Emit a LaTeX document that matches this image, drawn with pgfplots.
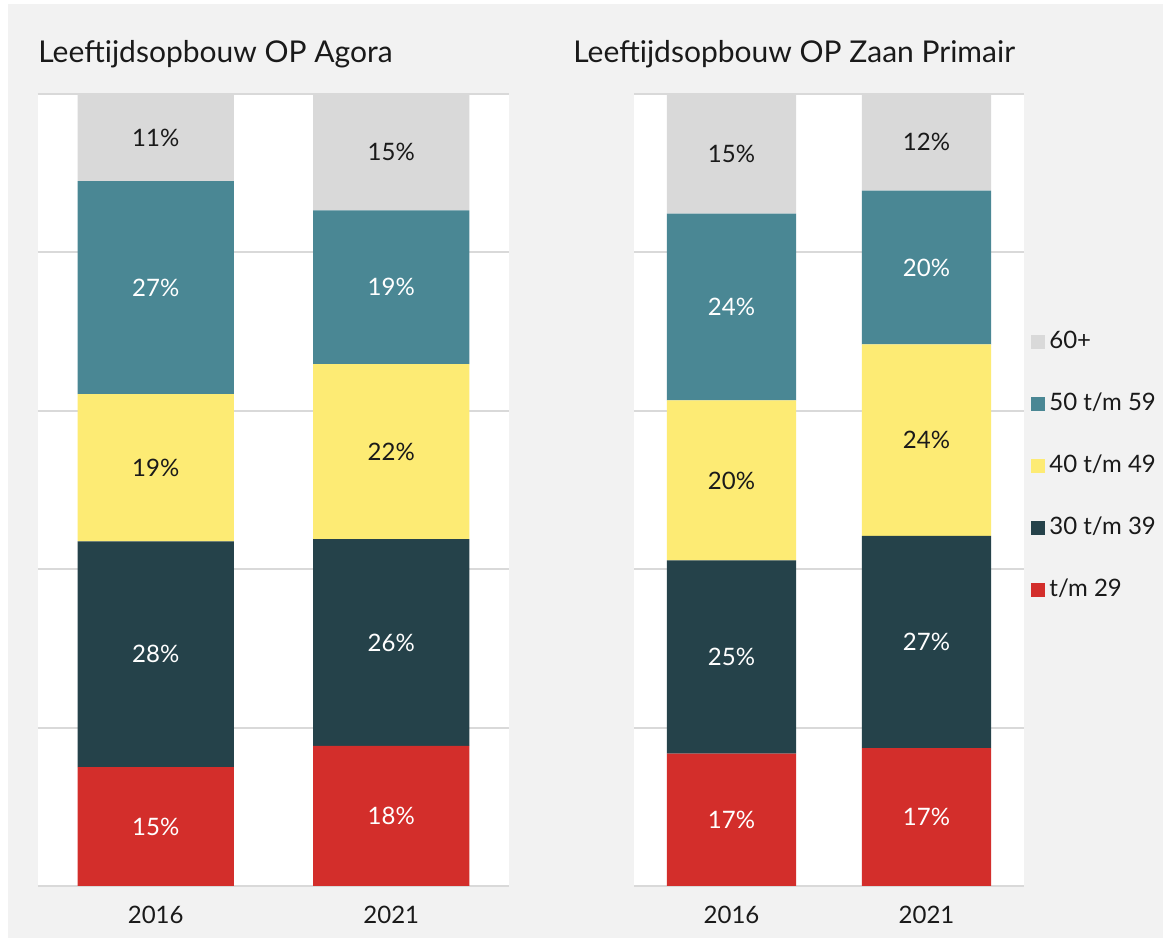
\documentclass[border=0pt]{standalone}
\usepackage{fontspec}
\setmainfont{Lato}
\usepackage{pgfplots}
\usepackage{pgfplotstable}
\pgfplotsset{compat=1.18}
\definecolor{bg}{HTML}{F2F2F2}
\definecolor{gridc}{HTML}{D9D9D9}
\definecolor{txt}{HTML}{1A1A1A}
\definecolor{cA}{HTML}{D32E2B}
\definecolor{cB}{HTML}{25424A}
\definecolor{cC}{HTML}{FDEB74}
\definecolor{cD}{HTML}{4A8794}
\definecolor{cE}{HTML}{D9D9D9}

% x: 0 = 2016, 1 = 2021 ; values in %, labels as shown
\pgfplotstableread{
x a la b lb c lc d ld e le
0 15.0 15 28.5 28 18.6 19 26.9 27 11.0 11
1 17.7 18 26.1 26 22.1 22 19.4 19 14.7 15
}\agora
\pgfplotstableread{
x a la b lb c lc d ld e le
0 16.7 17 24.4 25 20.2 20 23.6 24 15.1 15
1 17.4 17 26.8 27 24.2 24 19.4 20 12.2 12
}\zaan

\newcommand{\labf}{\fontsize{12}{14}\selectfont}
\pgfplotsset{
  mybars/.style={
    ybar stacked, scale only axis, height=396pt,
    ymin=0, ymax=100, xmin=-0.5, xmax=1.5,
    bar width=0.663,
    xtick={0,1}, xticklabels={2016,2021},
    ytick={0,20,40,60,80,100}, yticklabels={},
    ymajorgrids, grid style={line width=1pt, color=gridc},
    axis line style={draw=none},
    major tick length=0pt,
    axis background/.style={fill=white},
    xticklabel style={font=\labf, text=txt, yshift=-6.5pt},
    point meta=explicit symbolic,
    nodes near coords={\pgfplotspointmeta\%},
    legend image code/.code={\draw[#1,draw=none] (0pt,-3.5pt) rectangle (7pt,3.5pt);},
  },
  seg/.style n args={2}{fill=#1, draw=none,
    every node near coord/.append style={font=\labf, text=#2, anchor=center}},
}

\begin{document}
\begin{tikzpicture}
\fill[white] (0pt,0pt) rectangle (581.5pt,470.5pt);
\fill[bg] (4pt,1.5pt) rectangle (581.5pt,468.5pt);
\node[anchor=base west, inner sep=0pt, text=txt, font=\fontsize{15}{18}\selectfont] at (19pt,439pt) {Leeftijdsopbouw OP Agora};
\node[anchor=base west, inner sep=0pt, text=txt, font=\fontsize{15}{18}\selectfont] at (286.5pt,439pt) {Leeftijdsopbouw OP Zaan Primair};

\begin{axis}[mybars, at={(19pt,27.5pt)}, anchor=south west, width=235.5pt]
\addplot[seg={cA}{white}] table[x=x,y=a,meta=la]{\agora};
\addplot[seg={cB}{white}] table[x=x,y=b,meta=lb]{\agora};
\addplot[seg={cC}{txt}] table[x=x,y=c,meta=lc]{\agora};
\addplot[seg={cD}{white}] table[x=x,y=d,meta=ld]{\agora};
\addplot[seg={cE}{txt}] table[x=x,y=e,meta=le]{\agora};
\end{axis}

\begin{axis}[mybars, at={(317pt,27.5pt)}, anchor=south west, width=195pt,
  reverse legend,
  legend style={at={(1,0.53)}, anchor=west, xshift=3.5pt, draw=none, fill=none,
    inner sep=0pt, row sep=20pt, font=\labf, text=txt,
    nodes={text height=8.5pt, text depth=2.5pt, inner ysep=0pt, inner xsep=2pt}},
  legend cell align=left]
\addplot[seg={cA}{white}] table[x=x,y=a,meta=la]{\zaan};
\addlegendentry{t/m 29}
\addplot[seg={cB}{white}] table[x=x,y=b,meta=lb]{\zaan};
\addlegendentry{30 t/m 39}
\addplot[seg={cC}{txt}] table[x=x,y=c,meta=lc]{\zaan};
\addlegendentry{40 t/m 49}
\addplot[seg={cD}{white}] table[x=x,y=d,meta=ld]{\zaan};
\addlegendentry{50 t/m 59}
\addplot[seg={cE}{txt}] table[x=x,y=e,meta=le]{\zaan};
\addlegendentry{60+}
\end{axis}
\end{tikzpicture}
\end{document}
